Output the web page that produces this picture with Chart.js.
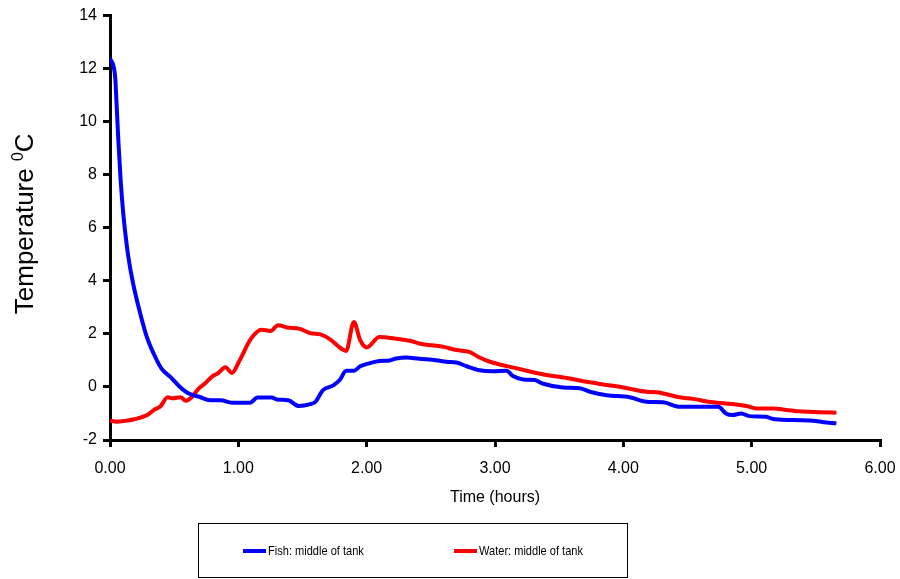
<!DOCTYPE html>
<html>
<head>
<meta charset="utf-8">
<script src="https://cdn.jsdelivr.net/npm/chart.js@4/dist/chart.umd.min.js"></script>
<style>
  html, body { margin: 0; padding: 0; background: #fff; }
  #wrap { width: 900px; height: 579px; position: relative; }
</style>
</head>
<body>
<div id="wrap"><canvas id="tempChart" width="900" height="579"></canvas></div>
<script>
// Fish: middle of tank
const fishTime = [0.00, 0.04, 0.05, 0.065, 0.083, 0.104, 0.117, 0.143, 0.18, 0.234, 0.286, 0.34, 0.40, 0.47, 0.545, 0.61, 0.70, 0.78, 0.86, 0.96, 1.09, 1.15, 1.26, 1.30, 1.39, 1.47, 1.56, 1.60, 1.66, 1.74, 1.79, 1.84, 1.90, 1.95, 2.02, 2.10, 2.18, 2.23, 2.31, 2.41, 2.54, 2.62, 2.70, 2.78, 2.88, 2.98, 3.09, 3.14, 3.22, 3.31, 3.37, 3.53, 3.66, 3.74, 3.87, 4.05, 4.18, 4.31, 4.44, 4.74, 4.80, 4.85, 4.92, 4.98, 5.11, 5.16, 5.32, 5.50, 5.55, 5.66]
const fishTemp = [12.4, 11.7, 10.8, 9.3, 7.8, 6.5, 5.9, 4.9, 3.9, 2.8, 1.9, 1.26, 0.70, 0.38, 0.0, -0.24, -0.38, -0.5, -0.5, -0.6, -0.6, -0.4, -0.4, -0.47, -0.5, -0.72, -0.65, -0.56, -0.12, 0.06, 0.26, 0.61, 0.61, 0.78, 0.89, 0.98, 1.0, 1.07, 1.11, 1.06, 1.01, 0.95, 0.92, 0.78, 0.63, 0.59, 0.61, 0.41, 0.28, 0.26, 0.13, -0.02, -0.05, -0.18, -0.31, -0.39, -0.56, -0.58, -0.75, -0.75, -1.0, -1.06, -1.0, -1.1, -1.12, -1.2, -1.25, -1.28, -1.32, -1.37]

// Water: middle of tank
const waterTime = [0.00, 0.05, 0.13, 0.19, 0.29, 0.35, 0.39, 0.45, 0.49, 0.55, 0.59, 0.64, 0.69, 0.74, 0.80, 0.84, 0.90, 0.95, 1.01, 1.10, 1.18, 1.25, 1.31, 1.38, 1.48, 1.56, 1.64, 1.71, 1.82, 1.84, 1.90, 1.95, 2.00, 2.10, 2.23, 2.34, 2.41, 2.60, 2.70, 2.80, 2.88, 2.96, 3.17, 3.37, 3.56, 3.66, 3.82, 4.00, 4.18, 4.26, 4.44, 4.54, 4.70, 4.85, 4.96, 5.04, 5.17, 5.27, 5.37, 5.53, 5.66]
const waterTemp = [-1.27, -1.31, -1.27, -1.22, -1.06, -0.84, -0.75, -0.39, -0.43, -0.39, -0.52, -0.37, -0.06, 0.13, 0.41, 0.51, 0.74, 0.53, 1.0, 1.83, 2.16, 2.11, 2.33, 2.24, 2.19, 2.03, 1.98, 1.81, 1.39, 1.36, 2.45, 1.76, 1.49, 1.88, 1.82, 1.74, 1.64, 1.51, 1.39, 1.32, 1.11, 0.95, 0.70, 0.48, 0.34, 0.24, 0.11, -0.02, -0.18, -0.2, -0.39, -0.45, -0.58, -0.64, -0.72, -0.81, -0.81, -0.87, -0.92, -0.95, -0.97]

const xTicks = [0, 1, 2, 3, 4, 5, 6]
const yTicks = [-2, 0, 2, 4, 6, 8, 10, 12, 14]

const toPoints = (xs, ys) => xs.map((x, i) => ({ x: x, y: ys[i] }))

// y title with the superscript 0 and the boxed legend at the bottom
const extras = {
  id: 'extras',
  afterDraw(chart) {
    const ctx = chart.ctx
    const area = chart.chartArea
    ctx.save()
    ctx.fillStyle = '#000'
    ctx.textBaseline = 'alphabetic'
    ctx.translate(33, (area.top + area.bottom) / 2 - 4)
    ctx.rotate(-Math.PI / 2)
    const big = '26px "Liberation Sans", Arial, sans-serif'
    const small = '16px "Liberation Sans", Arial, sans-serif'
    ctx.font = big
    const w1 = ctx.measureText('Temperature ').width
    const w3 = ctx.measureText('C').width
    ctx.font = small
    const w2 = ctx.measureText('0').width
    let x = -(w1 + w2 + w3) / 2
    ctx.font = big
    ctx.fillText('Temperature ', x, 0)
    x += w1
    ctx.font = small
    ctx.fillText('0', x, -10)
    x += w2
    ctx.font = big
    ctx.fillText('C', x, 0)
    ctx.restore()

    // legend box
    ctx.save()
    ctx.strokeStyle = '#000'
    ctx.lineWidth = 1
    ctx.strokeRect(198.5, 523.5, 429, 54)
    const items = [{ x: 243 }, { x: 454 }]
    ctx.font = '13px "Liberation Sans", Arial, sans-serif'
    ctx.textBaseline = 'middle'
    chart.data.datasets.forEach((ds, i) => {
      const lx = items[i].x
      ctx.strokeStyle = ds.borderColor
      ctx.lineWidth = 4
      ctx.beginPath()
      ctx.moveTo(lx, 551)
      ctx.lineTo(lx + 23, 551)
      ctx.stroke()
      ctx.save()
      ctx.translate(lx + 25, 551)
      ctx.scale(0.85, 1)
      ctx.fillStyle = '#000'
      ctx.fillText(ds.label, 0, 0)
      ctx.restore()
    })
    ctx.restore()
  }
}

new Chart(document.getElementById('tempChart'), {
  type: 'line',
  data: {
    datasets: [
      {
        label: 'Fish: middle of tank',
        data: toPoints(fishTime, fishTemp),
        borderColor: '#0000FF',
        borderWidth: 4,
        pointRadius: 0,
        cubicInterpolationMode: 'monotone'
      },
      {
        label: 'Water: middle of tank',
        data: toPoints(waterTime, waterTemp),
        borderColor: '#FF0000',
        borderWidth: 4,
        pointRadius: 0,
        cubicInterpolationMode: 'monotone'
      }
    ]
  },
  options: {
    responsive: false,
    animation: false,
    devicePixelRatio: 1,
    layout: { padding: { top: 15, right: 20, left: 0, bottom: 0 } },
    plugins: {
      legend: { display: false },
      tooltip: { enabled: false }
    },
    scales: {
      x: {
        type: 'linear',
        min: 0,
        max: 6,
        afterFit: (scale) => {
          scale.height = 139
          scale.paddingLeft = 0
          scale.paddingRight = 0
        },
        afterBuildTicks: (scale) => { scale.ticks = xTicks.map(v => ({ value: v })) },
        ticks: {
          color: '#000',
          padding: 12,
          font: { size: 16, family: '"Liberation Sans", Arial, sans-serif' },
          callback: (v) => Number(v).toFixed(2)
        },
        grid: { drawOnChartArea: false, drawTicks: true, tickLength: 7, color: '#000', lineWidth: 3 },
        border: { display: true, color: '#000', width: 3 },
        title: {
          display: true,
          text: 'Time (hours)',
          color: '#000',
          font: { size: 16, family: '"Liberation Sans", Arial, sans-serif' },
          padding: { top: 0, bottom: 72 }
        }
      },
      y: {
        min: -2,
        max: 14,
        afterFit: (scale) => { scale.width = 110 },
        afterBuildTicks: (scale) => { scale.ticks = yTicks.map(v => ({ value: v })) },
        ticks: {
          color: '#000',
          padding: 6,
          font: { size: 16, family: '"Liberation Sans", Arial, sans-serif' }
        },
        grid: { drawOnChartArea: false, drawTicks: true, tickLength: 7, color: '#000', lineWidth: 3 },
        border: { display: true, color: '#000', width: 3 }
      }
    }
  },
  plugins: [extras]
})
</script>
</body>
</html>
